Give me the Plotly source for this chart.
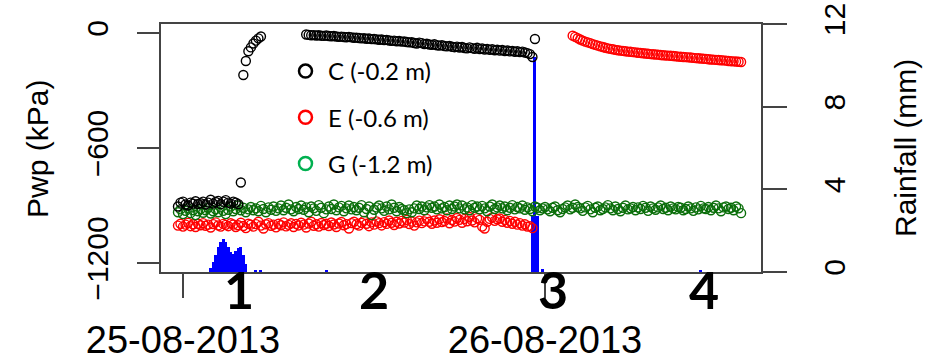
import pandas as pd
import plotly.graph_objects as go

# ---------------- data ----------------
# logger sampling: every 10 minutes, starting 2013-08-24 23:40
t_start = "2013-08-24 23:40"
n_samples = 225

pwp_C = ([-905, -885, -880, -895, -900, -885, -890, -878, -892, -888,
          -880, -895, -885, -870, -890, -882, -876, -893, -880, -872,
          -885, -890, -880, -885, -893,
          -780, -219, -146, -95, -75, -55, -40, -28, -18]
         + [None] * 17
         + [-8, -10, -12, -11, -13, -12, -14, -15, -13, -16,
            -17, -16, -18, -20, -19, -21, -22, -20, -23, -25,
            -24, -26, -28, -27, -30, -29, -32, -31, -33, -35,
            -34, -37, -36, -39, -41, -40, -43, -42, -45, -44,
            -47, -49, -48, -52, -55, -50, -53, -58, -56, -60,
            -62, -59, -64, -66, -63, -68, -70, -67, -72, -74,
            -71, -76, -73, -78, -80, -75, -79, -82, -77, -84,
            -81, -86, -83, -88, -85, -90, -87, -92, -89, -94,
            -91, -96, -93, -98, -95, -100, -97, -102, -105, -110, -125,
            -31]
         + [None] * 82)

pwp_E = ([-1005, -995, -1010, -1000, -990, -1008, -998, -1012, -995, -1003,
          -992, -1006, -1000, -1015, -997, -988, -1004, -1010, -996, -1001,
          -1008, -993, -999, -1012, -1003, -990, -1007, -1018, -995, -1000,
          -1010, -997, -985, -1005, -1020, -998, -992, -1006, -1000, -1014,
          -995, -1003, -988, -1009, -1001, -993, -1012, -996, -1004, -990,
          -1000, -1015, -994, -985, -1006, -998, -1010, -991, -1002, -995,
          -1007, -989, -999, -1012, -994, -986, -1003, -997, -1020, -992,
          -985, -998, -1005, -990, -980, -995, -1008, -988, -1000, -983,
          -992, -1004, -987, -996, -978, -990, -1002, -985, -994, -980,
          -989, -975, -997, -984, -1005, -988, -979, -992, -983, -970,
          -985, -995, -978, -990, -972, -987, -981, -968, -993, -976,
          -984, -965, -975, -990, -970, -982, -960, -978, -988, -966,
          -975, -1010, -1020, -985, -970, -962, -980, -972, -968, -985,
          -975, -990, -980, -995, -985, -1000, -992, -1005, -998, -1010,
          -1008, -1018]
         + [None] * 15
         + [-14, -20, -27, -34, -40, -45, -49, -53, -58, -62,
            -66, -70, -73, -77, -80, -83, -85, -88, -90, -92,
            -93, -95, -97, -98, -100, -101, -103, -104, -106, -107,
            -108, -110, -111, -112, -113, -115, -116, -117, -118, -119,
            -120, -121, -123, -124, -125, -126, -127, -128, -130, -131,
            -132, -133, -134, -135, -137, -138, -139, -140, -141, -142,
            -143, -144, -146, -147, -148, -149, -150, -151])

pwp_G = [-935, -920, -945, -928, -915, -940, -925, -950, -930, -918,
         -938, -925, -912, -942, -930, -920, -935, -910, -928, -945,
         -922, -905, -930, -918, -900, -925, -912, -935, -920, -908,
         -925, -915, -930, -902, -918, -935, -910, -922, -905, -928,
         -915, -900, -925, -912, -895, -920, -930, -908, -918, -900,
         -922, -910, -935, -905, -915, -928, -898, -912, -940, -920,
         -905, -918, -895, -925, -910, -902, -930, -915, -900, -920,
         -908, -925, -912, -898, -935, -918, -905, -950, -922, -910,
         -900, -915, -928, -905, -920, -895, -912, -930, -908, -918,
         -925, -940, -920, -935, -915, -900, -918, -905, -925, -910,
         -898, -912, -905, -920, -895, -915, -908, -925, -900, -918,
         -905, -895, -915, -900, -920, -910, -925, -898, -912, -905,
         -920, -902, -915, -930, -905, -895, -918, -910, -900, -915,
         -905, -925, -912, -898, -920, -908, -915, -900, -922, -910,
         -918, -930, -905, -912, -925, -915, -908, -920, -930, -912,
         -905, -925, -935, -918, -910, -900, -920, -912, -895, -908,
         -915, -928, -910, -902, -920, -935, -912, -905, -925, -918,
         -910, -898, -915, -925, -905, -918, -930, -912, -900, -920,
         -915, -908, -925, -910, -918, -902, -912, -928, -905, -915,
         -922, -910, -900, -918, -912, -925, -905, -915, -920, -908,
         -912, -925, -918, -905, -915, -928, -910, -920, -902, -915,
         -918, -908, -925, -912, -900, -915, -930, -910, -905, -918,
         -912, -925, -905, -915, -940]

rain_time = ["2013-08-25 01:50", "2013-08-25 02:00", "2013-08-25 02:10", "2013-08-25 02:20",
             "2013-08-25 02:30", "2013-08-25 02:40", "2013-08-25 02:50", "2013-08-25 03:00",
             "2013-08-25 03:10", "2013-08-25 03:20", "2013-08-25 03:30", "2013-08-25 03:40",
             "2013-08-25 03:50", "2013-08-25 04:00", "2013-08-25 04:10", "2013-08-25 04:50",
             "2013-08-25 05:10", "2013-08-25 09:30", "2013-08-25 23:10", "2013-08-25 23:20",
             "2013-08-25 23:30", "2013-08-25 23:50", "2013-08-26 10:20"]
rain_mm = [0.2, 0.5, 0.8, 1.2, 1.45, 1.6, 1.45, 1.2, 0.95, 0.85, 1.0, 1.15, 1.2, 0.8, 0.4,
           0.06, 0.06, 0.06, 2.7, 10.4, 2.7, 0.15, 0.05]

series_names = ["C (-0.2 m)", "E (-0.6 m)", "G (-1.2 m)"]
series_colors = ["black", "red", "#0a6e0a"]
legend_colors = ["black", "red", "#00b050"]

period_labels = ["1", "2", "3", "4"]
period_x_px = [239, 374, 553, 704]

x_tick_dates = ["2013-08-25", "2013-08-26"]
pwp_ticks = [-1200, -600, 0]
rain_ticks = [0, 4, 8, 12]

# ---------------- figure ----------------
times = pd.date_range(t_start, periods=n_samples, freq="10min")

W, H = 925, 364
L, R, T, B = 161, 164, 24, 92
pw, ph = W - L - R, H - T - B

AX = "#444444"
TXT = "black"

fig = go.Figure()

# rainfall bars on primary y (right side) so they sit underneath the points
fig.add_trace(go.Bar(x=pd.to_datetime(rain_time), y=rain_mm, yaxis="y",
                     width=720000, marker=dict(color="blue", line=dict(width=0)),
                     showlegend=False))

for vals, col in [(pwp_E, series_colors[1]), (pwp_G, series_colors[2]), (pwp_C, series_colors[0])]:
    fig.add_trace(go.Scatter(x=times, y=vals, yaxis="y2", mode="markers",
                             marker=dict(symbol="circle-open", size=9, color=col,
                                         line=dict(width=1.4, color=col)),
                             showlegend=False, connectgaps=False))

# legend entries
for i, (nm, col) in enumerate(zip(series_names, legend_colors)):
    fig.add_trace(go.Scatter(x=[None], y=[None], yaxis="y2", mode="markers", name=nm,
                             legendgroup=nm,
                             marker=dict(symbol="circle-open", size=13, color=col,
                                         line=dict(width=2.5, color=col))))

def px2paper_x(px):
    return (px - L) / pw

def py2paper_y(py):
    return (H - B - py) / ph

annotations = []
for lab, xp in zip(period_labels, period_x_px):
    annotations.append(dict(text=lab, x=px2paper_x(xp), y=py2paper_y(289), xref="paper", yref="paper",
                            showarrow=False, xanchor="center", yanchor="middle",
                            font=dict(family="Lato", size=52, color="black", weight="bold")))
annotations.append(dict(text="Pwp (kPa)", x=px2paper_x(37), y=py2paper_y(149), xref="paper", yref="paper",
                        showarrow=False, textangle=-90, xanchor="center", yanchor="middle",
                        font=dict(family="Liberation Sans", size=30, color=TXT)))
annotations.append(dict(text="Rainfall (mm)", x=px2paper_x(905), y=py2paper_y(148), xref="paper", yref="paper",
                        showarrow=False, textangle=-90, xanchor="center", yanchor="middle",
                        font=dict(family="Liberation Sans", size=30, color=TXT)))

fig.update_layout(
    width=W, height=H,
    margin=dict(l=L, r=R, t=T, b=B, pad=0, autoexpand=False),
    paper_bgcolor="white", plot_bgcolor="white",
    showlegend=True,
    legend=dict(x=px2paper_x(283), y=py2paper_y(49), xanchor="left", yanchor="top",
                font=dict(family="Lato", size=24, color=TXT), bgcolor="rgba(0,0,0,0)",
                tracegroupgap=12, itemwidth=35),
    bargap=0,
    xaxis=dict(type="date", automargin=False,
               range=[pd.Timestamp("2013-08-25") - pd.Timedelta(hours=1.459),
                      pd.Timestamp("2013-08-25") + pd.Timedelta(hours=38.32)],
               tickvals=pd.to_datetime(x_tick_dates), tickformat="%d-%m-%Y",
               ticks="outside", ticklen=24, tickwidth=1.5, tickcolor=AX,
               showline=True, mirror=True, linecolor=AX, linewidth=1.5,
               showgrid=False, zeroline=False,
               ticklabelstandoff=10,
               tickfont=dict(family="Liberation Sans", size=38, color=TXT)),
    yaxis=dict(side="right", range=[0, 12], tickvals=rain_ticks, automargin=False,
               ticks="outside", ticklen=24, tickwidth=1.5, tickcolor=AX,
               showline=True, mirror=True, linecolor=AX, linewidth=1.5,
               showgrid=False, zeroline=False, tickangle=-90,
               ticklabelstandoff=22,
               tickfont=dict(family="Liberation Sans", size=30, color=TXT)),
    yaxis2=dict(side="left", overlaying="y", range=[-1247, 47], tickvals=pwp_ticks, automargin=False,
                ticks="outside", ticklen=23, tickwidth=1.5, tickcolor=AX,
                showline=False, showgrid=False, zeroline=False, tickangle=-90,
                ticklabelstandoff=17,
                tickfont=dict(family="Liberation Sans", size=30, color=TXT)),
    annotations=annotations,
)

fig.write_html("out.html")
